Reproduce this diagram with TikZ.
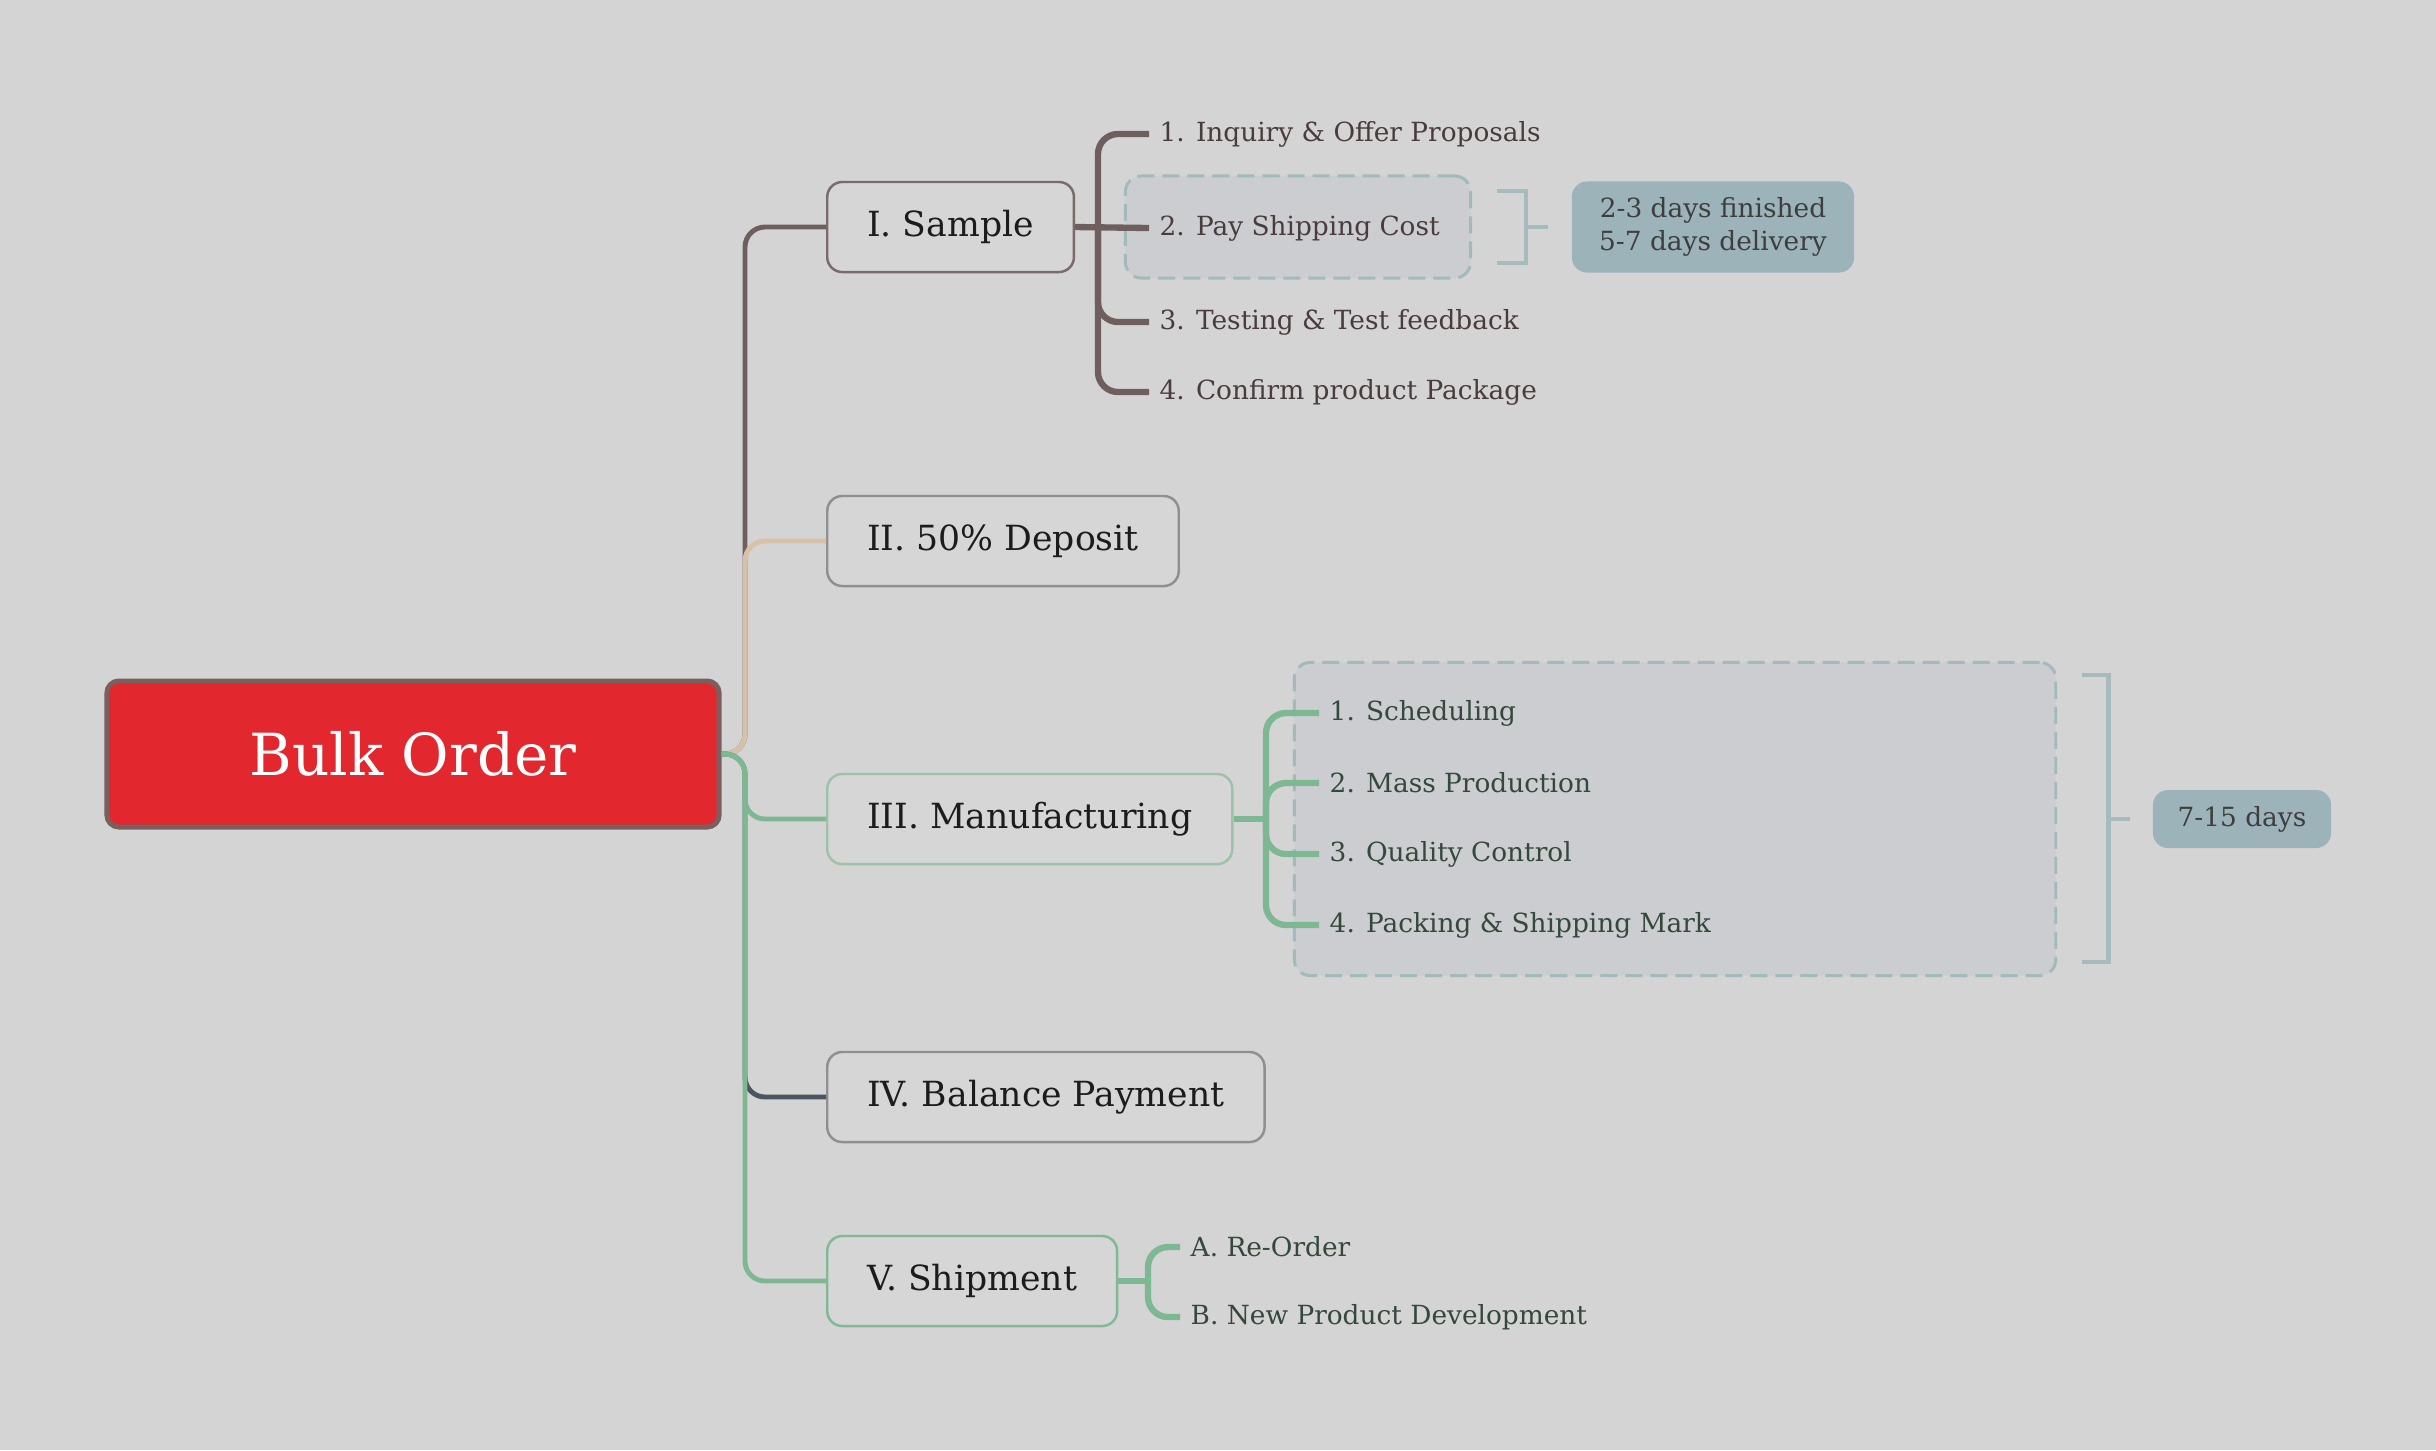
\documentclass[tikz,border=0pt]{standalone}
\usepackage{fontspec}
\setmainfont{DejaVu Serif}
\usetikzlibrary{positioning,calc}
\definecolor{bggray}{HTML}{D4D4D4}
\definecolor{boxfill}{HTML}{D6D6D6}
\definecolor{ink}{HTML}{1C1C1C}
\definecolor{rootred}{HTML}{E2282E}
\definecolor{rootedge}{HTML}{7A5F5F}
\definecolor{brownline}{HTML}{6F5E5E}
\definecolor{tanline}{HTML}{D7C2A9}
\definecolor{greenline}{HTML}{7DB893}
\definecolor{slateline}{HTML}{4B5560}
\definecolor{sampleedge}{HTML}{7A6A6A}
\definecolor{grayedge}{HTML}{8F8F8F}
\definecolor{mfgedge}{HTML}{9CC2A8}
\definecolor{shipedge}{HTML}{7EBB94}
\definecolor{groupfill}{HTML}{CBCDD0}
\definecolor{groupedge}{HTML}{A2BABB}
\definecolor{tagfill}{HTML}{9DB3BA}
\definecolor{bracketcol}{HTML}{A5BBBD}
\definecolor{browntext}{HTML}{4A3C3C}
\definecolor{greentext}{HTML}{34483B}
\tikzset{
  rootbox/.style={draw=rootedge, line width=1.4pt, fill=rootred, rounded corners=1.2mm, text=white, minimum width=6.12cm, minimum height=1.46cm, font=\fontsize{16.5}{19}\selectfont},
  topic/.style={draw=#1, line width=0.7pt, fill=boxfill, rounded corners=1.5mm, text=ink, anchor=west, minimum height=9mm, inner xsep=4mm, font=\fontsize{9.85}{11}\selectfont},
  item/.style={anchor=west, inner xsep=1mm, inner ysep=0.5mm, text=#1, font=\fontsize{7.5}{9}\selectfont},
  groupbox/.style={draw=groupedge, dash pattern=on 1.7mm off 0.8mm, line width=0.85pt, fill=groupfill, rounded corners=1.6mm},
  tagbox/.style={fill=tagfill, rounded corners=1.5mm, text=ink!85, align=center, font=\fontsize{7.5}{9.4}\selectfont},
  branch/.style={draw=#1, line width=1.4pt, rounded corners=2mm},
  sub/.style={draw=#1, line width=1.8pt, rounded corners=2mm},
  bracket/.style={draw=bracketcol, line width=1.3pt}
}
\begin{document}
\begin{tikzpicture}[x=0.01cm, y=-0.01cm]
  \useasboundingbox (0,0) rectangle (2436,1450);
  \fill[bggray] (0,0) rectangle (2436,1450);

  % root and main topics
  \node[rootbox] (root) at (413,754) {Bulk Order};
  \node[topic=sampleedge] (sample) at (826,227) {I. Sample};
  \node[topic=grayedge] (deposit) at (826,541) {II. 50\% Deposit};
  \node[topic=mfgedge] (manuf) at (826,819) {III. Manufacturing};
  \node[topic=grayedge] (balance) at (826,1097) {IV. Balance Payment};
  \node[topic=shipedge] (ship) at (826,1281) {V. Shipment};

  % groups
  \node[groupbox, minimum width=3.45cm, minimum height=1.02cm] (grp1) at (1298,227) {};
  \node[groupbox, minimum width=7.61cm, minimum height=3.13cm] (grp2) at (1675,819) {};

  % sample steps
  \node[item=browntext] (s1) at (1149,134) {1. Inquiry \& Offer Proposals};
  \node[item=browntext] (s2) at (1149,228) {2. Pay Shipping Cost};
  \node[item=browntext] (s3) at (1149,322) {3. Testing \& Test feedback};
  \node[item=browntext] (s4) at (1149,392) {4. Confirm product Package};

  % manufacturing steps
  \node[item=greentext] (m1) at (1319,713) {1. Scheduling};
  \node[item=greentext] (m2) at (1319,783) {2. Mass Production};
  \node[item=greentext] (m3) at (1319,854) {3. Quality Control};
  \node[item=greentext] (m4) at (1319,925) {4. Packing \& Shipping Mark};

  % shipment steps
  \node[item=greentext] (v1) at (1180,1247) {A. Re-Order};
  \node[item=greentext] (v2) at (1180,1317) {B. New Product Development};

  % time tags
  \node[tagbox, minimum width=2.82cm, minimum height=0.91cm] (tag1) at (1713,227) {2-3 days finished\\5-7 days delivery};
  \node[tagbox, minimum width=1.78cm, minimum height=0.58cm] (tag2) at (2242,819) {7-15 days};

  % main branches
  \coordinate (hub) at (745,754);
  \draw[branch=brownline] (root.east) -- (hub) |- (sample.west);
  \draw[branch=tanline] (root.east) -- (hub) |- (deposit.west);
  \draw[branch=slateline] (root.east) -- (hub) |- (balance.west);
  \draw[branch=greenline] (root.east) -- (hub) |- (manuf.west);
  \draw[branch=greenline] (root.east) -- (hub) |- (ship.west);

  % sub branches
  \coordinate (shub) at (1098,228);
  \draw[sub=brownline] (sample.east) -- (s2.west);
  \foreach \i in {1,3,4} \draw[sub=brownline] (shub) |- (s\i.west);
  \coordinate (mhub) at (1266,819);
  \draw[sub=greenline] (manuf.east) -- (mhub);
  \foreach \i in {1,...,4} \draw[sub=greenline] (mhub) |- (m\i.west);
  \coordinate (vhub) at (1148,1281);
  \draw[sub=greenline] (ship.east) -- (vhub);
  \foreach \i in {1,2} \draw[sub=greenline] (vhub) |- (v\i.west);

  % brackets
  \draw[bracket] ($(grp1.east)+(25,-36)$) -- ++(29,0) -- ++(0,72) -- ++(-29,0);
  \coordinate (b1) at ($(grp1.east)+(54,0)$);
  \draw[bracket, shorten >=2.3mm] (b1) -- (tag1.west);
  \draw[bracket] ($(grp2.east)+(25,-144)$) -- ++(26,0) -- ++(0,287) -- ++(-26,0);
  \coordinate (b2) at ($(grp2.east)+(51,0)$);
  \draw[bracket, shorten >=2.2mm] (b2) -- (tag2.west);
\end{tikzpicture}
\end{document}
